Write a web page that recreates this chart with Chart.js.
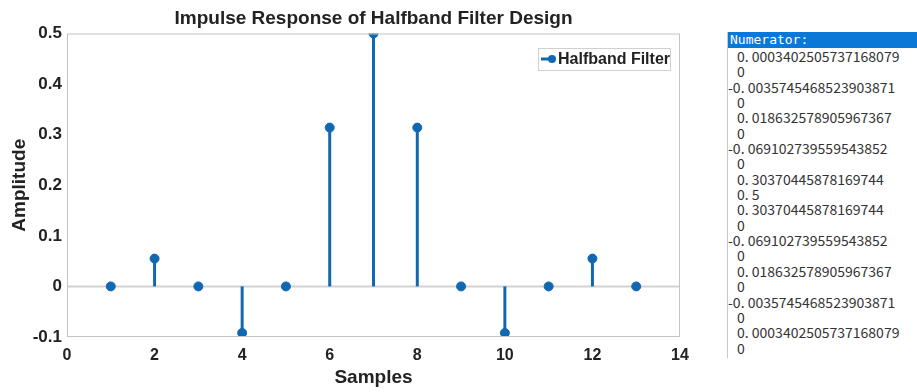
<!DOCTYPE html>
<html><head><meta charset="utf-8">
<script src="https://cdn.jsdelivr.net/npm/chart.js@4"></script>
<style>
html,body{margin:0;padding:0;background:#fff;width:917px;height:392px;overflow:hidden;}
#wrap{position:absolute;left:0;top:0;width:700px;height:392px;}
#panel{position:absolute;left:727px;top:32px;width:190px;height:326px;border-left:1px solid #c8c8c8;}
#hdr{height:16px;background:#0a78d7;color:#fff;font:13px "DejaVu Sans Mono",monospace;line-height:16px;padding-left:2px;}
#lines{font:14px "Noto Sans CJK SC","Noto Sans",sans-serif;color:#333;padding-top:1px;}
#lines div{height:15.35px;line-height:15.35px;white-space:pre;}
#lines div.pos{padding-left:9px;}
</style></head>
<body>
<div id="wrap"><canvas id="c" width="700" height="392"></canvas></div>
<div id="panel"><div id="hdr"></div><div id="lines"></div></div>
<script>
const samples = [1,2,3,4,5,6,7,8,9,10,11,12,13];
const amplitude = [0, 0.055, 0, -0.092, 0, 0.314, 0.5, 0.314, 0, -0.092, 0, 0.055, 0];
const xTicks = [0,2,4,6,8,10,12,14];
const yTicks = [-0.1,0,0.1,0.2,0.3,0.4,0.5];
const seriesName = 'Halfband Filter';
const chartTitle = 'Impulse Response of Halfband Filter Design';
const numeratorHeader = 'Numerator:';
const numeratorLines = [
 '0. 0003402505737168079','0','-0. 0035745468523903871','0',
 '0. 018632578905967367','0','-0. 069102739559543852','0',
 '0. 30370445878169744','0. 5','0. 30370445878169744','0',
 '-0. 069102739559543852','0','0. 018632578905967367','0',
 '-0. 0035745468523903871','0','0. 0003402505737168079','0'
];
document.getElementById('hdr').textContent = numeratorHeader;
const linesEl = document.getElementById('lines');
numeratorLines.forEach(t=>{
  const d=document.createElement('div');
  if(t[0]!=='-') d.className='pos';
  d.textContent=t; linesEl.appendChild(d);
});

const blue = '#1168b0';
const pts = samples.map((s,i)=>({x:s,y:amplitude[i]}));
const FONT = '"Liberation Sans",Arial,sans-serif';

const stemPlugin = {
  id:'stems',
  beforeDatasetsDraw(chart){
    const {ctx, chartArea:a, scales:{x,y}} = chart;
    ctx.save();
    ctx.strokeStyle='#d2d2d2'; ctx.lineWidth=2;
    const y0=y.getPixelForValue(0);
    ctx.beginPath(); ctx.moveTo(a.left,y0); ctx.lineTo(a.right,y0); ctx.stroke();
    ctx.strokeStyle=blue; ctx.lineWidth=3;
    pts.forEach(p=>{
      const px=x.getPixelForValue(p.x);
      ctx.beginPath(); ctx.moveTo(px,y0); ctx.lineTo(px,y.getPixelForValue(p.y)); ctx.stroke();
    });
    ctx.restore();
  },
  afterDraw(chart){
    const {ctx, chartArea:a} = chart;
    ctx.save();
    ctx.strokeStyle='#c4c4c4'; ctx.lineWidth=1;
    ctx.strokeRect(a.left+0.5,a.top+0.5,a.right-a.left-1,a.bottom-a.top-1);
    // title
    ctx.fillStyle='#222'; ctx.font='bold 19px '+FONT;
    ctx.textAlign='center'; ctx.textBaseline='middle';
    ctx.fillText(chartTitle,(a.left+a.right)/2,19);
    // legend
    const lx=538, ly=48, lw=132, lh=22;
    ctx.fillStyle='#fff'; ctx.fillRect(lx,ly,lw,lh);
    ctx.strokeStyle='#d0d0d0'; ctx.strokeRect(lx+0.5,ly+0.5,lw,lh);
    const cy=ly+lh/2;
    ctx.strokeStyle=blue; ctx.lineWidth=3;
    ctx.beginPath(); ctx.moveTo(lx+3,cy); ctx.lineTo(lx+15,cy); ctx.stroke();
    ctx.fillStyle=blue; ctx.beginPath(); ctx.arc(lx+14,cy,4,0,Math.PI*2); ctx.fill();
    ctx.fillStyle='#222'; ctx.font='bold 16px '+FONT;
    ctx.textBaseline='middle'; ctx.textAlign='left';
    ctx.fillText(seriesName,lx+20,cy+1);
    ctx.restore();
  }
};

new Chart(document.getElementById('c'),{
  type:'scatter',
  data:{datasets:[{label:seriesName,data:pts,backgroundColor:blue,borderColor:blue,pointRadius:4.5,pointHoverRadius:4.5}]},
  options:{
    responsive:false,animation:false,
    layout:{padding:{left:4,right:20,top:33.5,bottom:0}},
    plugins:{legend:{display:false},tooltip:{enabled:false},title:{display:false}},
    scales:{
      x:{type:'linear',min:0,max:14,
        afterBuildTicks(s){s.ticks=xTicks.map(v=>({value:v}));},
        afterFit(s){s.height=55;},
        grid:{display:false,drawTicks:false},border:{display:false},
        ticks:{color:'#222',padding:9,maxRotation:0,font:{family:FONT,size:16,weight:'bold'}},
        title:{display:true,text:'Samples',color:'#222',padding:{top:0,bottom:3},font:{family:FONT,size:19,weight:'bold'}}
      },
      y:{type:'linear',min:-0.1,max:0.5,
        afterBuildTicks(s){s.ticks=yTicks.map(v=>({value:v}));},
        afterFit(s){s.width=63;},
        grid:{display:false,drawTicks:false},border:{display:false},
        ticks:{color:'#222',padding:5,callback:v=>String(Math.round(v*10)/10),font:{family:FONT,size:17,weight:'bold'}},
        title:{display:true,text:'Amplitude',color:'#222',padding:{top:4,bottom:0},font:{family:FONT,size:19,weight:'bold'}}
      }
    }
  },
  plugins:[stemPlugin]
});
</script>
</body></html>
